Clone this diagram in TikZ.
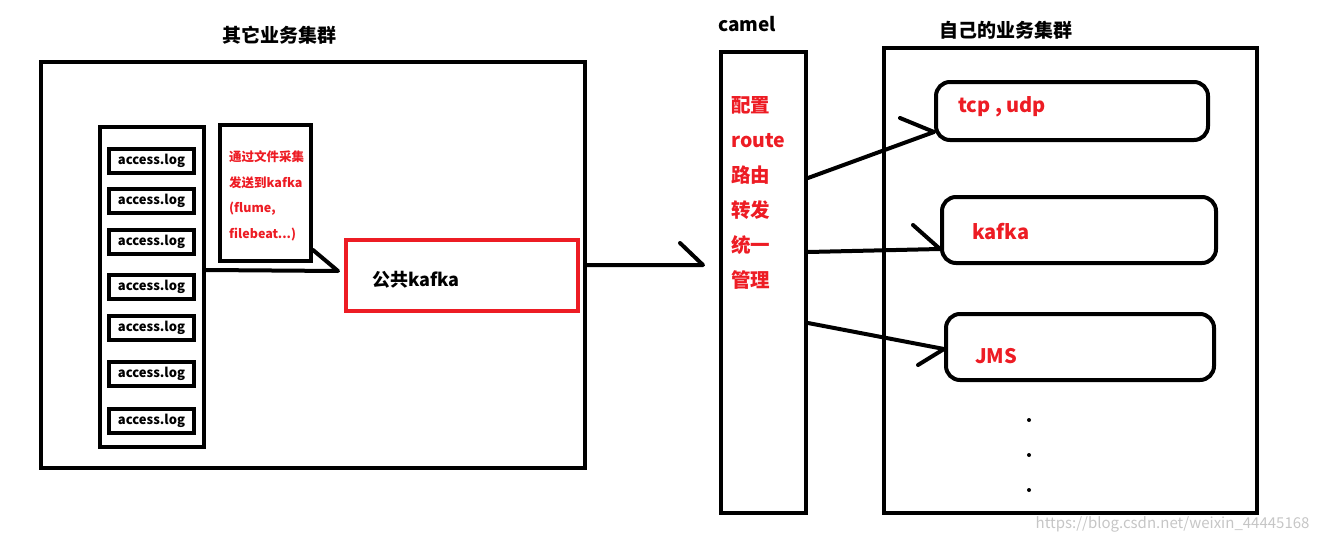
\documentclass[tikz,border=0pt]{standalone}
\usepackage{fontspec}
\setmainfont{Noto Sans CJK SC}
\usetikzlibrary{positioning}
\definecolor{paintred}{HTML}{ED1C24}

\tikzset{
  box/.style={draw, line width=4pt, inner sep=0pt},
  logbox/.style={box, minimum width=85pt, minimum height=24pt,
    font=\fontsize{13}{15}\selectfont\bfseries},
  flow/.style={box, rounded corners=14pt},
  title/.style={font=\fontsize{19}{21}\selectfont\bfseries},
  redtext/.style={text=paintred, align=left, anchor=west, inner sep=0pt},
  link/.style={line width=4pt, line cap=round, line join=round},
}

\begin{document}
\begin{tikzpicture}[x=1pt, y=-1pt]
  \useasboundingbox (0,0) rectangle (1321,543);
  % other business cluster
  \node[box, minimum width=544pt, minimum height=406pt] (other) at (313,265) {};
  \node[title] (othertitle) at (279,35) {其它业务集群};
  \node[box, minimum width=104pt, minimum height=320pt] (logs) at (152,287) {};
  \foreach \y [count=\i] in {161,201,242,287,328,374,421}
    \node[logbox] (log\i) at (151.5,\y) {\raisebox{-1pt}{access.log}};
  \node[box, minimum width=91pt, minimum height=136pt] (collect) at (265.5,193) {};
  \node[redtext, font=\fontsize{12.5}{25.5}\selectfont\bfseries] (collecttext) at (229,196)
    {通过文件采集\\发送到kafka\\(flume,\\filebeat...)};
  \node[box, draw=paintred, minimum width=232pt, minimum height=71pt] (pubkafka) at (462,275.5) {};
  \node[anchor=west, inner sep=0pt, font=\fontsize{18}{20}\selectfont\bfseries] (pubtext) at (372,280) {公共kafka};
  \draw[link] (logs.east |- 0,270) coordinate (tailstart) -- (338,271) coordinate (tailtip) -- (collect.south east |- 0,250);
  % camel
  \node[box, minimum width=85pt, minimum height=461pt] (camel) at (763.5,282.5) {};
  \node[title] (cameltitle) at (747,24) {camel};
  \node[redtext, font=\fontsize{19.5}{35}\selectfont\bfseries] (cameltext) at (731,193)
    {配置\\route\\路由\\转发\\统一\\管理};
  \coordinate (maintip) at (703,265);
  \draw[link] (other.east |- maintip) -- (maintip) -- ++(-23,-22);
  % own business cluster
  \node[box, minimum width=373pt, minimum height=465pt] (own) at (1070.5,280.5) {};
  \node[title] (owntitle) at (1006,30) {自己的业务集群};
  \node[flow, minimum width=272pt, minimum height=58pt] (tcp) at (1072,111) {};
  \node[flow, minimum width=274pt, minimum height=66pt] (kafka) at (1079,230) {};
  \node[flow, minimum width=268pt, minimum height=66pt] (jms) at (1080,347) {};
  \foreach \n/\x/\y/\lab in {tcp/958/107/{tcp , udp}, kafka/972/232/{kafka}, jms/975/356/{JMS}}
    \node[redtext, font=\fontsize{20}{22}\selectfont\bfseries] (\n text) at (\x,\y) {\lab};
  \foreach \y [count=\i] in {420,455,490}
    \fill (1029,\y) circle (2pt) coordinate (dot\i);
  % routes
  \draw[link] (camel.east |- 0,178) -- (tcp.west |- 0,132) -- ++(-34,-14);
  \draw[link] (camel.east |- 0,252) -- (kafka.west |- 0,249) -- ++(-27,-24);
  \draw[link] (camel.east |- 0,323) -- (jms.west |- 0,349) -- ++(-26,16);
  \node[anchor=east, text=gray!45, font=\fontsize{15}{17}\selectfont] (mark) at (1313,524) {https://blog.csdn.net/weixin\_44445168};
\end{tikzpicture}
\end{document}
